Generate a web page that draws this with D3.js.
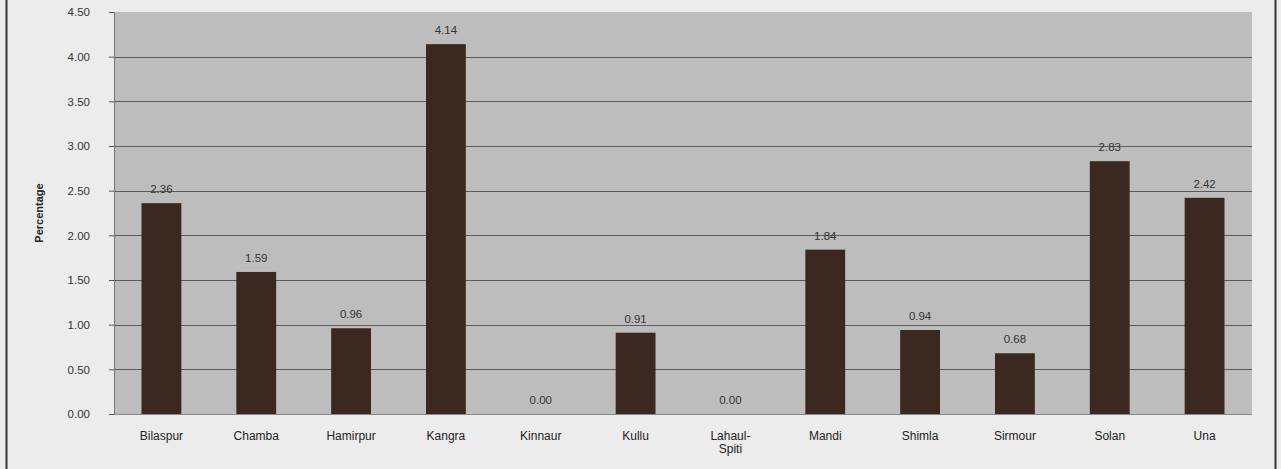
<!DOCTYPE html>
<html><head><meta charset="utf-8">
<script src="https://cdn.jsdelivr.net/npm/d3@7"></script>
<style>body{margin:0;background:#ececec;}svg{display:block;font-family:Arial,"Liberation Sans",sans-serif;}</style>
</head><body>
<svg id="c" width="1281" height="469"></svg>
<script>
const categories = ["Bilaspur","Chamba","Hamirpur","Kangra","Kinnaur","Kullu","Lahaul-Spiti","Mandi","Shimla","Sirmour","Solan","Una"];
const values = [2.36,1.59,0.96,4.14,0.00,0.91,0.00,1.84,0.94,0.68,2.83,2.42];
const yTicks = [0,0.5,1,1.5,2,2.5,3,3.5,4,4.5];

const svg = d3.select("#c");
const m = {left:114, right:1252, top:12, bottom:414};
svg.append("rect").attr("width",1281).attr("height",469).attr("fill","#ececec");
svg.append("line").attr("x1",6.5).attr("x2",6.5).attr("y1",0).attr("y2",469).attr("stroke","#333").attr("stroke-width",2);
svg.append("line").attr("x1",1275.5).attr("x2",1275.5).attr("y1",0).attr("y2",469).attr("stroke","#333").attr("stroke-width",2);

const x = d3.scaleBand().domain(categories).range([m.left,m.right]).paddingInner(0.58).paddingOuter(0.29);
const y = d3.scaleLinear().domain([0,4.5]).range([m.bottom,m.top]);

svg.append("rect").attr("x",m.left).attr("y",m.top).attr("width",m.right-m.left).attr("height",m.bottom-m.top).attr("fill","#bdbdbd");

// gridlines
svg.append("g").selectAll("line").data(yTicks.filter(d=>d>0 && d<4.5)).join("line")
  .attr("x1",m.left).attr("x2",m.right)
  .attr("y1",d=>Math.round(y(d))+0.5).attr("y2",d=>Math.round(y(d))+0.5)
  .attr("stroke","#5a5a5a").attr("stroke-width",1);

// y axis
const ya = svg.append("g").attr("transform",`translate(${m.left},0)`)
  .call(d3.axisLeft(y).tickValues(yTicks).tickFormat(d3.format(".2f")).tickSize(5).tickPadding(19));
ya.select(".domain").attr("stroke","#777");
ya.selectAll(".tick line").attr("stroke","#555");
ya.selectAll("text").attr("font-size",11.5).attr("fill","#333").attr("font-family","Arial,'Liberation Sans',sans-serif");

// bars
svg.append("g").selectAll("rect").data(values).join("rect")
  .attr("x",(d,i)=>x(categories[i])).attr("width",x.bandwidth())
  .attr("y",d=>y(d)).attr("height",d=>y(0)-y(d))
  .attr("fill","#3b2921");

// x axis
svg.append("line").attr("x1",m.left).attr("x2",m.right).attr("y1",m.bottom+0.5).attr("y2",m.bottom+0.5).attr("stroke","#888");

// value labels
svg.append("g").selectAll("text").data(values).join("text")
  .attr("x",(d,i)=>x(categories[i])+x.bandwidth()/2).attr("y",d=>y(d)-10)
  .attr("text-anchor","middle").attr("font-size",11.5).attr("fill","#333")
  .text(d=>d3.format(".2f")(d));

// category labels
const cl = svg.append("g").selectAll("text").data(categories).join("text")
  .attr("x",d=>x(d)+x.bandwidth()/2).attr("y",440)
  .attr("text-anchor","middle").attr("font-size",12).attr("fill","#222");
cl.each(function(d){
  const t = d3.select(this);
  if(d==="Lahaul-Spiti"){
    t.append("tspan").attr("x",t.attr("x")).attr("dy",0).text("Lahaul-");
    t.append("tspan").attr("x",t.attr("x")).attr("dy",13).text("Spiti");
  } else t.text(d);
});

// y title
svg.append("text").attr("transform",`translate(43,${(m.top+m.bottom)/2}) rotate(-90)`)
  .attr("text-anchor","middle").attr("font-size",11).attr("font-weight","bold").attr("fill","#222").text("Percentage");
</script>
</body></html>
